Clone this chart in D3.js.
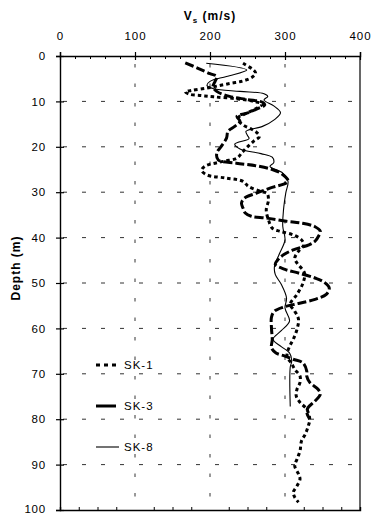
<!DOCTYPE html>
<html><head><meta charset="utf-8">
<script src="https://cdn.jsdelivr.net/npm/d3@7"></script>
<style>body{margin:0;background:#fff}svg{display:block;font-family:Arial,"Liberation Sans",sans-serif}</style>
</head><body>
<svg id="c" width="371" height="514"></svg>
<script>
// ---- data ----
const xTicks = [0, 100, 200, 300, 400];
const xMinorTop = [20,40,60,80,120,140,160,180,220,240,260,280,320,340,360,380];
const xMinorBottom = [25,50,75,125,150,175,225,250,275,325,350,375];
const yTicks = [0,10,20,30,40,50,60,70,80,90,100];
const gridX = [100, 200, 300];
const gridY = [10,20,30,40,50,60,70,80,90];

const sk1Depth = [1.6,3.1,3.8,4.7,5.5,6.0,6.6,7.1,7.6,7.9,8.4,8.7,9.0,9.4,10.0,10.6,11.5,12.6,13.5,14.2,15.3,16.0,16.8,17.7,18.8,20.0,21.2,22.5,23.2,24.3,25.2,26.2,26.9,27.6,28.7,29.8,30.3,31.7,33.9,36.1,37.9,38.6,39.4,40.5,41.6,43.0,44.5,45.6,47.8,50.0,52.5,54.7,56.2,58.0,60.2,62.4,64.0,65.4,66.5,67.5,69.0,70.5,71.9,73.4,74.9,76.3,77.8,80.0,81.5,83.3,84.8,87.0,88.8,90.3,92.1,93.2,94.7,96.1,97.2,98.3];
const sk1Vs    = [244,258,261,256,244,228,210,195,175,167,172,188,205,235,258,270,262,249,238,238,245,254,262,266,258,250,243,236,218,193,189,196,222,244,251,267,276,278,275,278,283,293,311,322,325,318,313,316,326,324,316,307,313,318,316,311,306,303,303,308,313,320,320,316,315,320,329,333,331,327,322,320,316,313,318,320,316,311,313,318];

const sk3Depth = [1.5,2.7,3.9,4.5,5.5,6.7,7.8,8.9,9.6,10.2,10.8,11.7,12.6,13.3,14.4,15.5,16.6,18.1,19.9,21.4,22.9,23.6,24.2,25.0,26.0,27.6,29.1,30.2,31.3,32.4,33.5,34.6,35.3,35.7,36.4,36.8,37.6,38.6,39.6,40.8,41.6,42.7,43.8,44.8,45.9,47.0,47.8,48.9,49.8,51.1,52.5,53.6,54.5,55.3,56.2,57.5,60.0,62.5,64.3,65.4,66.1,66.8,67.6,69.4,70.5,71.9,73.4,74.5,76.0,77.4,78.5,80.0];
const sk3Vs    = [167,184,200,209,207,204,209,226,250,270,273,262,249,236,240,233,224,222,215,209,211,235,262,283,296,304,280,262,246,242,244,247,255,275,302,322,340,347,345,340,332,311,298,291,287,300,318,340,352,359,355,340,318,298,286,282,282,283,282,288,300,311,324,329,329,333,344,347,340,331,329,333];

const sk8Depth = [1.6,3.1,4.5,5.6,6.5,7.2,7.8,8.3,8.9,9.7,11.0,12.5,14.0,15.5,16.6,17.5,18.2,19.4,20.5,21.5,22.3,23.5,24.3,25.8,27.6,30.2,33.9,37.5,40.5,43.4,46.3,48.1,50.3,53.3,55.5,58.4,60.5,62.4,64.0,65.4,67.2,68.5,77.2];
const sk8Vs    = [195,249,222,200,196,205,240,272,277,272,285,294,286,270,248,250,252,233,240,268,283,285,280,297,304,301,298,297,300,293,286,287,295,302,300,306,295,284,295,306,309,307,307];

const seriesNames = ["SK-1","SK-3","SK-8"];

// ---- chart ----
const svg = d3.select("#c");
const x = d3.scaleLinear().domain([0,400]).range([60,360]);
const y = d3.scaleLinear().domain([0,100]).range([56,510]);
const ink = "#000";
const FONT = "Arial, 'Liberation Sans', sans-serif";

// grid
svg.append("g").selectAll("line").data(gridY).join("line")
  .attr("x1",x(0)).attr("x2",x(400)).attr("y1",d=>y(d)).attr("y2",d=>y(d))
  .attr("stroke","#333").attr("stroke-width",1).attr("stroke-dasharray","4,15").attr("stroke-dashoffset",-3);
svg.append("g").selectAll("line").data(gridX).join("line")
  .attr("x1",d=>x(d)).attr("x2",d=>x(d)).attr("y1",y(0)).attr("y2",y(100))
  .attr("stroke","#333").attr("stroke-width",1).attr("stroke-dasharray","3.5,16").attr("stroke-dashoffset",-8);

// right frame line
svg.append("line").attr("x1",x(400)).attr("x2",x(400)).attr("y1",y(0)).attr("y2",y(100)).attr("stroke",ink).attr("stroke-width",1.2);

// top axis
const topAx = svg.append("g").attr("transform",`translate(0,${y(0)})`)
  .call(d3.axisTop(x).tickValues(xTicks).tickSize(4).tickPadding(12).tickFormat(d3.format("d")));
topAx.select(".domain").attr("stroke",ink).attr("stroke-width",1.4);
topAx.selectAll(".tick line").attr("y1",4).attr("y2",-4).attr("stroke-width",1.2);
topAx.selectAll(".tick text").attr("font-size",11.5).attr("font-family",FONT).attr("letter-spacing",1).attr("fill","#000");
const topMinor = svg.append("g").attr("transform",`translate(0,${y(0)})`)
  .call(d3.axisBottom(x).tickValues(xMinorTop).tickSize(3).tickFormat(""));
topMinor.select(".domain").remove();

// bottom axis
const botAx = svg.append("g").attr("transform",`translate(0,${y(100)})`)
  .call(d3.axisTop(x).tickValues(xMinorBottom).tickSize(3).tickFormat(""));
botAx.select(".domain").attr("stroke",ink).attr("stroke-width",1.4);

// left axis
const leftAx = svg.append("g").attr("transform",`translate(${x(0)},0)`)
  .call(d3.axisLeft(y).tickValues(yTicks).tickSize(4).tickPadding(10).tickFormat(d3.format("d")));
leftAx.select(".domain").attr("stroke",ink).attr("stroke-width",1.4);
leftAx.selectAll(".tick line").attr("x1",4).attr("x2",-4).attr("stroke-width",1.2);
leftAx.selectAll(".tick text").attr("font-size",11.5).attr("font-family",FONT).attr("letter-spacing",0.8).attr("fill","#000");
leftAx.selectAll(".tick text").filter(d=>d===100).attr("dy","0.2em");

// titles
const t = svg.append("text").attr("x",210).attr("y",20).attr("text-anchor","middle")
  .attr("font-size",12).attr("font-weight","bold").attr("letter-spacing",1);
t.append("tspan").text("V");
t.append("tspan").attr("font-size",8).attr("dy",3).text("s");
t.append("tspan").attr("dy",-3).text(" (m/s)");
svg.append("text").attr("transform","translate(20,268) rotate(-90)").attr("text-anchor","middle")
  .attr("font-size",12).attr("font-weight","bold").attr("letter-spacing",1).text("Depth (m)");

// curves
const line = d3.line().x(d=>x(d[1])).y(d=>y(d[0])).curve(d3.curveCatmullRom.alpha(0.5));
const styles = [
  {dash:"3.5,3", w:3},
  {dash:"9,3", w:3},
  {dash:null, w:1.1}
];
const series = [d3.zip(sk1Depth,sk1Vs), d3.zip(sk3Depth,sk3Vs), d3.zip(sk8Depth,sk8Vs)];
series.forEach((s,i)=>{
  svg.append("path").datum(s).attr("d",line).attr("fill","none").attr("stroke",ink)
    .attr("stroke-width",styles[i].w).attr("stroke-dasharray",styles[i].dash);
});

// legend
const legY = [365,406,447];
const legend = svg.append("g");
seriesNames.forEach((n,i)=>{
  legend.append("line").attr("x1",96).attr("x2",i===2?119:116).attr("y1",legY[i]).attr("y2",legY[i])
    .attr("stroke",ink).attr("stroke-width",styles[i].w).attr("stroke-dasharray",i===0?"4,4":null);
  legend.append("text").attr("x",124).attr("y",legY[i]+4).attr("font-size",11.5).attr("letter-spacing",1).attr("fill","#000").text(n);
});
</script>
</body></html>
